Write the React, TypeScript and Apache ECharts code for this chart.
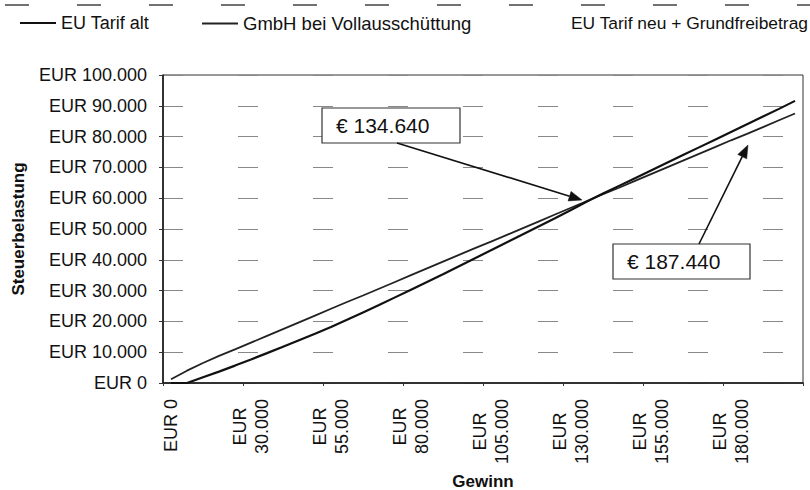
import React, { useEffect, useRef } from "react";
import * as echarts from "echarts";

const incomes = [
  0, 10000, 15000, 20000, 25000, 30000, 35000, 40000, 45000, 50000, 55000, 60000, 65000, 70000,
  75000, 80000, 85000, 90000, 95000, 100000, 105000, 110000, 115000, 120000, 125000, 130000,
  135000, 140000, 145000, 150000, 155000, 160000, 165000, 170000, 175000, 180000, 185000, 190000,
  195000, 200000,
];

const seriesNames = ["EU Tarif alt", "GmbH bei Vollausschüttung", "EU Tarif neu + Grundfreibetrag"];

const euTarifAlt = [
  0, 0, 1850, 3700, 5650, 7650, 9700, 11800, 13900, 16000, 18200, 20500, 22900, 25300, 27800,
  30300, 32800, 35300, 37900, 40500, 43100, 45700, 48300, 50900, 53500, 56200, 58900, 61500, 64000,
  66500, 69000, 71500, 74000, 76500, 79000, 81500, 84000, 86500, 89000, 91600,
];

const gmbh = [
  1200, 4000, 6500, 8800, 10900, 13100, 15300, 17500, 19700, 21900, 24100, 26300, 28400, 30600,
  32800, 35000, 37200, 39400, 41600, 43800, 45900, 48100, 50300, 52500, 54700, 56900, 59100, 61300,
  63400, 65600, 67800, 70000, 72200, 74400, 76600, 78800, 80900, 83100, 85300, 87500,
];

// third series is not legible in the picture
const euTarifNeu: number[] = [];

const annotations = [
  { label: "€ 134.640", box: [322, 108, 138, 35], from: [397, 143], tip: [582, 200] },
  { label: "€ 187.440", box: [613, 244, 137, 35], from: [699, 244], tip: [748, 145] },
];

const FONT = "'Liberation Sans', Arial, sans-serif";

const fmt = (v: number) => "EUR " + String(v).replace(/\B(?=(\d{3})+(?!\d))/g, ".");

function arrowGraphics(a: (typeof annotations)[number]) {
  const [fx, fy] = a.from;
  const [tx, ty] = a.tip;
  const dx = tx - fx;
  const dy = ty - fy;
  const len = Math.sqrt(dx * dx + dy * dy);
  const ux = dx / len;
  const uy = dy / len;
  const hl = 13;
  const hw = 5;
  const bx = tx - ux * hl;
  const by = ty - uy * hl;
  const px = -uy * hw;
  const py = ux * hw;
  return [
    {
      type: "rect",
      shape: { x: a.box[0], y: a.box[1], width: a.box[2], height: a.box[3] },
      style: { fill: "#fff", stroke: "#333", lineWidth: 1.2 },
      z: 100,
    },
    {
      type: "text",
      x: a.box[0] + 14,
      y: a.box[1] + a.box[3] / 2,
      style: {
        text: a.label,
        fill: "#111",
        font: `21px ${FONT}`,
        verticalAlign: "middle",
        align: "left",
      },
      z: 101,
    },
    {
      type: "line",
      shape: { x1: fx, y1: fy, x2: bx, y2: by },
      style: { stroke: "#111", lineWidth: 1.6 },
      z: 100,
    },
    {
      type: "polygon",
      shape: {
        points: [
          [tx, ty],
          [bx + px, by + py],
          [bx - px, by - py],
        ],
      },
      style: { fill: "#111", stroke: "#111", lineWidth: 0.5 },
      z: 100,
    },
  ];
}

export default function App() {
  const ref = useRef<HTMLDivElement>(null);

  useEffect(() => {
    if (!ref.current) return;
    const chart = echarts.init(ref.current, null, { renderer: "svg" });
    const categories = incomes.map(fmt);

    const legendBase = {
      orient: "horizontal",
      top: 9,
      icon: "rect",
      itemWidth: 36,
      itemHeight: 2,
      itemGap: 10,
      selectedMode: false,
    };

    chart.setOption({
      animation: false,
      backgroundColor: "#fff",
      legend: [
        {
          ...legendBase,
          left: 15,
          data: [seriesNames[0]],
          textStyle: { fontSize: 18, color: "#111", fontFamily: FONT },
        },
        {
          ...legendBase,
          left: 197,
          data: [seriesNames[1]],
          textStyle: { fontSize: 18.5, color: "#111", fontFamily: FONT },
        },
        {
          ...legendBase,
          left: 525,
          data: [seriesNames[2]],
          textStyle: { fontSize: 17.4, color: "#111", fontFamily: FONT },
        },
      ],
      grid: {
        left: 163,
        right: 7,
        top: 75,
        bottom: 107,
        containLabel: false,
        outerBoundsMode: "none",
        show: true,
        borderColor: "#333",
        borderWidth: 1,
        backgroundColor: "transparent",
      },
      xAxis: {
        type: "category",
        data: categories,
        boundaryGap: true,
        name: "Gewinn",
        nameLocation: "middle",
        nameGap: 90,
        nameTextStyle: { fontSize: 17, fontWeight: "bold", color: "#111", fontFamily: FONT },
        axisLine: { show: true, lineStyle: { color: "#111", width: 1.5 } },
        axisTick: { show: true, interval: 4, length: 3, lineStyle: { color: "#333" } },
        axisLabel: {
          interval: 4,
          rotate: 90,
          margin: 16,
          color: "#111",
          fontFamily: FONT,
          fontSize: 18,
          formatter: (v: string) => {
            const parts = v.split(" ");
            if (parts[1] === "0") return "{c|" + v + "}";
            return "{c|" + parts[0] + "}\n{c|" + parts[1] + "}";
          },
          rich: {
            c: { fontSize: 18, lineHeight: 22, align: "center", color: "#111", fontFamily: FONT },
          },
        },
        splitLine: { show: false },
      },
      yAxis: {
        type: "value",
        min: 0,
        max: 100000,
        interval: 10000,
        name: "Steuerbelastung",
        nameLocation: "middle",
        nameRotate: 90,
        nameGap: 136,
        nameTextStyle: { fontSize: 17, fontWeight: "bold", color: "#111", fontFamily: FONT },
        axisLine: { show: true, lineStyle: { color: "#111", width: 1.5 } },
        axisTick: { show: true, length: 4, lineStyle: { color: "#333" } },
        axisLabel: {
          margin: 16,
          color: "#111",
          fontSize: 18,
          fontFamily: FONT,
          formatter: (v: number) => fmt(v),
        },
        splitLine: {
          show: true,
          lineStyle: { color: "#888", width: 1, type: [20, 55] },
        },
      },
      series: [
        {
          name: seriesNames[0],
          type: "line",
          data: euTarifAlt,
          symbol: "none",
          color: "#111",
          lineStyle: { color: "#111", width: 2.2 },
          z: 3,
        },
        {
          name: seriesNames[1],
          type: "line",
          data: gmbh,
          symbol: "none",
          color: "#222",
          lineStyle: { color: "#222", width: 1.8 },
          z: 2,
        },
        {
          name: seriesNames[2],
          type: "line",
          data: euTarifNeu,
          symbol: "none",
          color: "#fff",
          lineStyle: { color: "#fff", width: 1.5 },
          z: 1,
        },
      ],
      graphic: [
        {
          type: "line",
          shape: { x1: 5, y1: 5, x2: 810, y2: 5 },
          style: { stroke: "#444", lineWidth: 1.5, lineDash: [24, 48] },
        },
        ...annotations.flatMap(arrowGraphics),
      ],
    });

    return () => chart.dispose();
  }, []);

  return (
    <div
      ref={ref}
      style={{ position: "fixed", left: 0, top: 0, width: 810, height: 490, background: "#fff" }}
    />
  );
}
